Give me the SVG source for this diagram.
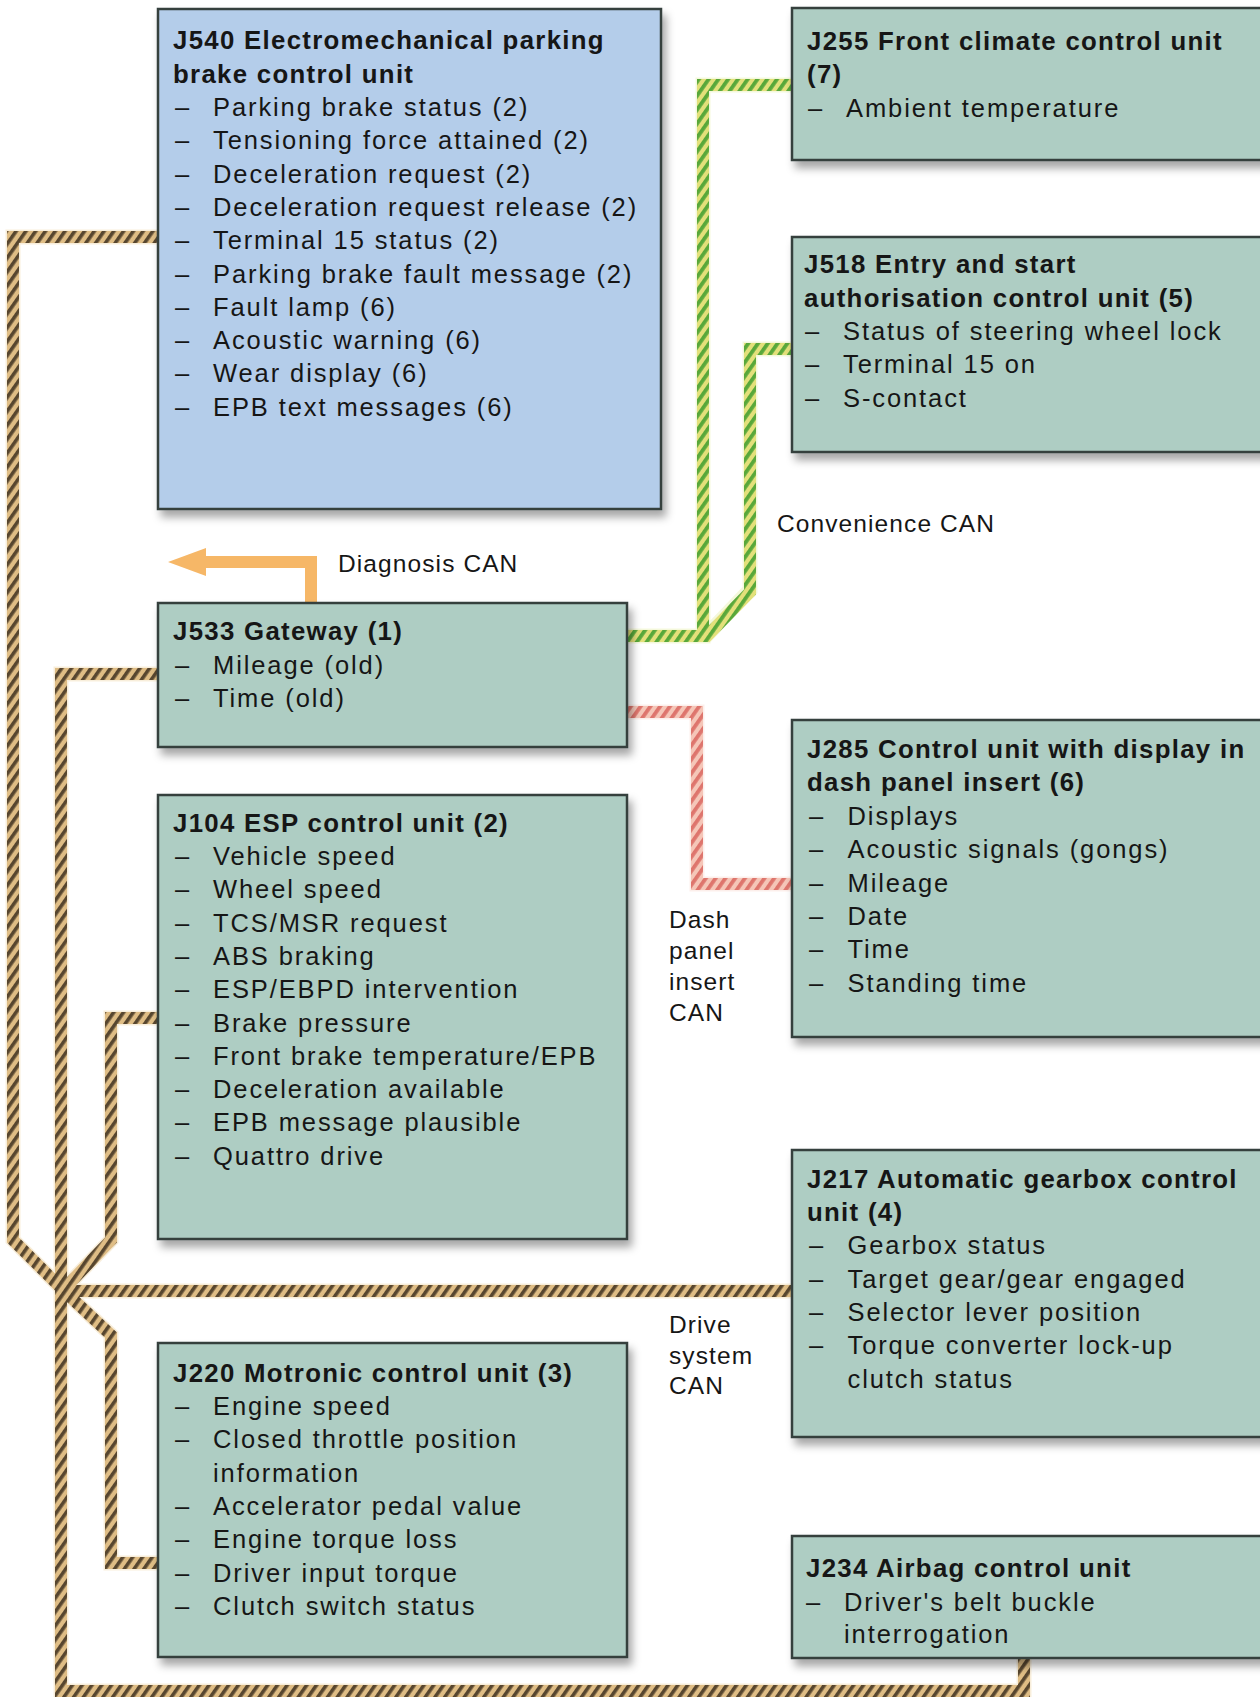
<svg xmlns="http://www.w3.org/2000/svg" width="1260" height="1697" viewBox="0 0 1260 1697">
<defs>
<style>
text{font-family:"Liberation Sans",Arial,sans-serif;fill:#161616}
.t{font-weight:bold;font-size:25.8px;letter-spacing:1.3px}
.i{font-size:25.5px;letter-spacing:1.9px}
.l{font-size:24.5px;letter-spacing:1.1px}
.box{fill:#aecdc3;stroke:#34403d;stroke-width:2.5;filter:url(#sh)}
.blue{fill:#b4cdea}
.cab{fill:none;stroke-width:12;stroke-linejoin:miter;stroke-linecap:butt}
.halo{fill:none;stroke-width:15;stroke-linejoin:miter;opacity:0.45}
</style>
<filter id="sh" x="-5%" y="-5%" width="115%" height="120%">
<feDropShadow dx="4" dy="7" stdDeviation="4" flood-color="#000" flood-opacity="0.35"/>
</filter>
<pattern id="pb" patternUnits="userSpaceOnUse" width="8" height="8" patternTransform="rotate(35)">
<rect width="8" height="8" fill="#dfbd85"/><rect width="3.6" height="8" fill="#57462f"/>
</pattern>
<pattern id="pg" patternUnits="userSpaceOnUse" width="8" height="8" patternTransform="rotate(35)">
<rect width="8" height="8" fill="#e3e07a"/><rect width="3.8" height="8" fill="#58a83a"/>
</pattern>
<pattern id="pr" patternUnits="userSpaceOnUse" width="8" height="8" patternTransform="rotate(35)">
<rect width="8" height="8" fill="#f5c6b8"/><rect width="3.8" height="8" fill="#de756d"/>
</pattern>
</defs>
<rect width="1260" height="1697" fill="#fff"/>

<g id="connectors">
<g id="drive-can">
<path class="halo" stroke="#f0d9b0" d="M158,237 H13 V1240 L63,1290 M158,674 H61 V1691 H1024 V1658 M158,1018 H111 V1240 L63,1290 M158,1563 H111 V1335 L63,1290 M63,1291 H792"/>
<path class="cab" stroke="url(#pb)" d="M158,237 H13 V1240 L63,1290"/>
<path class="cab" stroke="url(#pb)" d="M158,674 H61 V1691 H1024 V1658"/>
<path class="cab" stroke="url(#pb)" d="M158,1018 H111 V1240 L63,1290"/>
<path class="cab" stroke="url(#pb)" d="M158,1563 H111 V1335 L63,1290"/>
<path class="cab" stroke="url(#pb)" d="M57,1291 H792"/>
</g>
<g id="convenience-can">
<path class="halo" stroke="#e6efb0" d="M627,636 H703 V85 H792 M705,637 L750,590 V349 H792"/>
<path class="cab" stroke="url(#pg)" d="M627,636 H703 V85 H792"/>
<path class="cab" stroke="url(#pg)" d="M705,638 L750,592 V349 H792"/>
</g>
<g id="dash-can">
<path class="halo" stroke="#f8dcd2" d="M627,712 H697 V884 H792"/>
<path class="cab" stroke="url(#pr)" d="M627,712 H697 V884 H792"/>
</g>
<g id="diagnosis-can">
<path d="M311,603 V562 H200" fill="none" stroke="#f6b767" stroke-width="12" stroke-linejoin="miter"/>
<polygon points="168,562 206,548 206,576" fill="#f6b767"/>
</g>
</g>

<g id="labels">
<text class="l" x="338" y="572">Diagnosis CAN</text>
<text class="l" x="777" y="532">Convenience CAN</text>
<text class="l" x="669" y="928">Dash</text>
<text class="l" x="669" y="959">panel</text>
<text class="l" x="669" y="990">insert</text>
<text class="l" x="669" y="1021">CAN</text>
<text class="l" x="669" y="1333">Drive</text>
<text class="l" x="669" y="1363.5">system</text>
<text class="l" x="669" y="1394">CAN</text>
</g>

<g id="J540">
<rect class="box blue" x="158" y="9" width="503" height="500"/>
<text class="t" x="173" y="49.3">J540 Electromechanical parking</text>
<text class="t" x="173" y="83">brake control unit</text>
<g class="i">
<text class="i" x="175" y="116">–</text><text class="i" x="213" y="116">Parking brake status (2)</text>
<text class="i" x="175" y="149.3">–</text><text class="i" x="213" y="149.3">Tensioning force attained (2)</text>
<text class="i" x="175" y="182.6">–</text><text class="i" x="213" y="182.6">Deceleration request (2)</text>
<text class="i" x="175" y="215.9">–</text><text class="i" x="213" y="215.9">Deceleration request release (2)</text>
<text class="i" x="175" y="249.2">–</text><text class="i" x="213" y="249.2">Terminal 15 status (2)</text>
<text class="i" x="175" y="282.5">–</text><text class="i" x="213" y="282.5">Parking brake fault message (2)</text>
<text class="i" x="175" y="315.8">–</text><text class="i" x="213" y="315.8">Fault lamp (6)</text>
<text class="i" x="175" y="349.1">–</text><text class="i" x="213" y="349.1">Acoustic warning (6)</text>
<text class="i" x="175" y="382.4">–</text><text class="i" x="213" y="382.4">Wear display (6)</text>
<text class="i" x="175" y="415.7">–</text><text class="i" x="213" y="415.7">EPB text messages (6)</text>
</g>
</g>

<g id="J255">
<rect class="box" x="792" y="8" width="475" height="152"/>
<text class="t" x="807" y="50">J255 Front climate control unit</text>
<text class="t" x="807" y="82.6">(7)</text>
<text class="i" x="808" y="116.5">–</text><text class="i" x="846" y="116.5">Ambient temperature</text>
</g>

<g id="J518">
<rect class="box" x="792" y="237" width="475" height="215"/>
<text class="t" x="804" y="273.3">J518 Entry and start</text>
<text class="t" x="804" y="306.7">authorisation control unit (5)</text>
<text class="i" x="805" y="340">–</text><text class="i" x="843" y="340">Status of steering wheel lock</text>
<text class="i" x="805" y="373.3">–</text><text class="i" x="843" y="373.3">Terminal 15 on</text>
<text class="i" x="805" y="406.7">–</text><text class="i" x="843" y="406.7">S-contact</text>
</g>

<g id="J533">
<rect class="box" x="158" y="603" width="469" height="144"/>
<text class="t" x="173" y="640">J533 Gateway (1)</text>
<text class="i" x="175" y="674">–</text><text class="i" x="213" y="674">Mileage (old)</text>
<text class="i" x="175" y="707.3">–</text><text class="i" x="213" y="707.3">Time (old)</text>
</g>

<g id="J104">
<rect class="box" x="158" y="795" width="469" height="444"/>
<text class="t" x="173" y="831.7">J104 ESP control unit (2)</text>
<text class="i" x="175" y="865">–</text><text class="i" x="213" y="865">Vehicle speed</text>
<text class="i" x="175" y="898.3">–</text><text class="i" x="213" y="898.3">Wheel speed</text>
<text class="i" x="175" y="931.6">–</text><text class="i" x="213" y="931.6">TCS/MSR request</text>
<text class="i" x="175" y="964.9">–</text><text class="i" x="213" y="964.9">ABS braking</text>
<text class="i" x="175" y="998.2">–</text><text class="i" x="213" y="998.2">ESP/EBPD intervention</text>
<text class="i" x="175" y="1031.5">–</text><text class="i" x="213" y="1031.5">Brake pressure</text>
<text class="i" x="175" y="1064.8">–</text><text class="i" x="213" y="1064.8">Front brake temperature/EPB</text>
<text class="i" x="175" y="1098.1">–</text><text class="i" x="213" y="1098.1">Deceleration available</text>
<text class="i" x="175" y="1131.4">–</text><text class="i" x="213" y="1131.4">EPB message plausible</text>
<text class="i" x="175" y="1164.7">–</text><text class="i" x="213" y="1164.7">Quattro drive</text>
</g>

<g id="J285">
<rect class="box" x="792" y="720" width="475" height="317"/>
<text class="t" x="807" y="758.3">J285 Control unit with display in</text>
<text class="t" x="807" y="791">dash panel insert (6)</text>
<text class="i" x="809" y="825">–</text><text class="i" x="847.5" y="825">Displays</text>
<text class="i" x="809" y="858.3">–</text><text class="i" x="847.5" y="858.3">Acoustic signals (gongs)</text>
<text class="i" x="809" y="891.6">–</text><text class="i" x="847.5" y="891.6">Mileage</text>
<text class="i" x="809" y="924.9">–</text><text class="i" x="847.5" y="924.9">Date</text>
<text class="i" x="809" y="958.2">–</text><text class="i" x="847.5" y="958.2">Time</text>
<text class="i" x="809" y="991.5">–</text><text class="i" x="847.5" y="991.5">Standing time</text>
</g>

<g id="J217">
<rect class="box" x="792" y="1150" width="475" height="287"/>
<text class="t" x="807" y="1187.5">J217 Automatic gearbox control</text>
<text class="t" x="807" y="1221">unit (4)</text>
<text class="i" x="809" y="1254.3">–</text><text class="i" x="847.5" y="1254.3">Gearbox status</text>
<text class="i" x="809" y="1287.6">–</text><text class="i" x="847.5" y="1287.6">Target gear/gear engaged</text>
<text class="i" x="809" y="1320.9">–</text><text class="i" x="847.5" y="1320.9">Selector lever position</text>
<text class="i" x="809" y="1354.2">–</text><text class="i" x="847.5" y="1354.2">Torque converter lock-up</text>
<text class="i" x="847.5" y="1387.5">clutch status</text>
</g>

<g id="J220">
<rect class="box" x="158" y="1343" width="469" height="314"/>
<text class="t" x="173" y="1381.6">J220 Motronic control unit (3)</text>
<text class="i" x="175" y="1415">–</text><text class="i" x="213" y="1415">Engine speed</text>
<text class="i" x="175" y="1448.3">–</text><text class="i" x="213" y="1448.3">Closed throttle position</text>
<text class="i" x="213" y="1481.6">information</text>
<text class="i" x="175" y="1514.9">–</text><text class="i" x="213" y="1514.9">Accelerator pedal value</text>
<text class="i" x="175" y="1548.2">–</text><text class="i" x="213" y="1548.2">Engine torque loss</text>
<text class="i" x="175" y="1581.5">–</text><text class="i" x="213" y="1581.5">Driver input torque</text>
<text class="i" x="175" y="1614.8">–</text><text class="i" x="213" y="1614.8">Clutch switch status</text>
</g>

<g id="J234">
<rect class="box" x="792" y="1536" width="475" height="122"/>
<text class="t" x="806" y="1576.7">J234 Airbag control unit</text>
<text class="i" x="806" y="1610.7">–</text><text class="i" x="844" y="1610.7">Driver's belt buckle</text>
<text class="i" x="844" y="1643">interrogation</text>
</g>
</svg>
